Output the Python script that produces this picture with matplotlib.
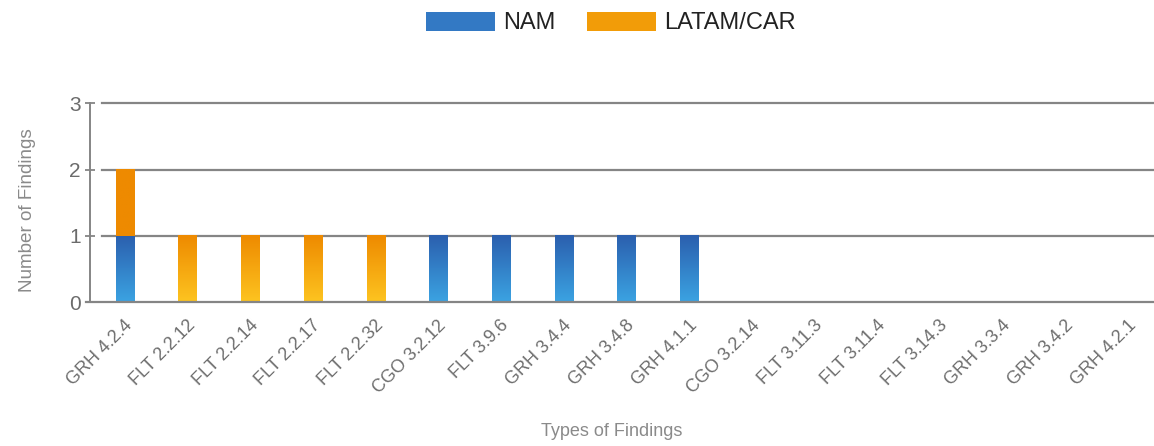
import numpy as np
import matplotlib
matplotlib.use("Agg")
import matplotlib.pyplot as plt
import matplotlib.transforms as mtransforms
from matplotlib.colors import to_rgb
from matplotlib.patches import Patch

categories = ['GRH 4.2.4', 'FLT 2.2.12', 'FLT 2.2.14', 'FLT 2.2.17', 'FLT 2.2.32',
              'CGO 3.2.12', 'FLT 3.9.6', 'GRH 3.4.4', 'GRH 3.4.8', 'GRH 4.1.1',
              'CGO 3.2.14', 'FLT 3.11.3', 'FLT 3.11.4', 'FLT 3.14.3', 'GRH 3.3.4',
              'GRH 3.4.2', 'GRH 4.2.1']
nam = [1, 0, 0, 0, 0, 1, 1, 1, 1, 1, 0, 0, 0, 0, 0, 0, 0]
latam = [1, 1, 1, 1, 1, 0, 0, 0, 0, 0, 0, 0, 0, 0, 0, 0, 0]
series_names = ['NAM', 'LATAM/CAR']
y_ticks = [0, 1, 2, 3]

nam_dark, nam_light = '#2b5fae', '#3ba3e2'
lat_dark, lat_light = '#ee8a00', '#fdc420'

plt.rcParams['font.family'] = ['Liberation Sans', 'DejaVu Sans']
W, H = 1154, 446
fig = plt.figure(figsize=(W / 100, H / 100), dpi=100)
ax = fig.add_axes([90 / W, (H - 302.3) / H, 1 - 90 / W, (302.3 - 103.3) / H])

x = np.arange(len(categories))
bw = 0.3
b1 = ax.bar(x, nam, bw, color=nam_dark, label=series_names[0])
b2 = ax.bar(x, latam, bw, bottom=nam, color=lat_dark, label=series_names[1])


def gradient_fill(bars, dark, light):
    d = np.array(to_rgb(dark))
    l = np.array(to_rgb(light))
    for p in bars:
        h = p.get_height()
        if h <= 0:
            p.set_visible(False)
            continue
        x0, y0, w = p.get_x(), p.get_y(), p.get_width()
        ys = np.linspace(y0 + h, y0, 100)
        t = np.clip(ys, 0, 1)[:, None]
        img = (l[None, :] * (1 - t) + d[None, :] * t)[:, None, :]
        ax.imshow(img, extent=[x0, x0 + w, y0, y0 + h], aspect='auto',
                  interpolation='bilinear', zorder=3)
        p.set_visible(False)


gradient_fill(b1, nam_dark, nam_light)
gradient_fill(b2, lat_dark, lat_light)

ax.set_xlim(-0.56, 16.41)
ax.set_ylim(0, 3)

# gridlines
for yv in y_ticks[1:]:
    ax.axhline(yv, xmin=12 / (W - 90), xmax=1, color='#858585', lw=1.6, zorder=1, clip_on=False)
ax.axhline(0, xmin=-4 / (W - 90), xmax=1, color='#858585', lw=1.6, zorder=4, clip_on=False)

for s in ['top', 'right', 'bottom']:
    ax.spines[s].set_visible(False)
ax.spines['left'].set_color('#858585')
ax.spines['left'].set_linewidth(1.4)

ax.set_yticks(y_ticks)
ax.set_yticklabels([str(v) for v in y_ticks])
ax.tick_params(axis='y', direction='inout', length=7.5, width=1.3, color='#858585',
               labelsize=15, labelcolor='#6b6b6b', pad=3)

ax.set_xticks(x)
ax.set_xticklabels(categories)
ax.tick_params(axis='x', length=0, labelsize=13, labelcolor='#6e6e6e', pad=15)
offset = mtransforms.ScaledTranslation(5 / 100, 0, fig.dpi_scale_trans)
for lab in ax.get_xticklabels():
    lab.set_rotation(45)
    lab.set_ha('right')
    lab.set_va('center')
    lab.set_rotation_mode('anchor')
    lab.set_transform(lab.get_transform() + offset)

fig.text(28 / W, 1 - 210 / H, 'Number of Findings', rotation=90, ha='center', va='center',
         fontsize=13.6, color='#8a8a8a')
fig.text(612 / W, 1 - 432 / H, 'Types of Findings', ha='center', va='center',
         fontsize=13, color='#8a8a8a')

handles = [Patch(facecolor='#3379c4', edgecolor='none'), Patch(facecolor='#f29c08', edgecolor='none')]
fig.legend(handles, series_names, loc='center', bbox_to_anchor=(611 / W, 1 - 23 / H),
           ncol=2, frameon=False, fontsize=17, handlelength=2.92, handleheight=0.85,
           handletextpad=0.34, columnspacing=1.35, labelcolor='#222222')

fig.savefig('out.png', dpi=100)
